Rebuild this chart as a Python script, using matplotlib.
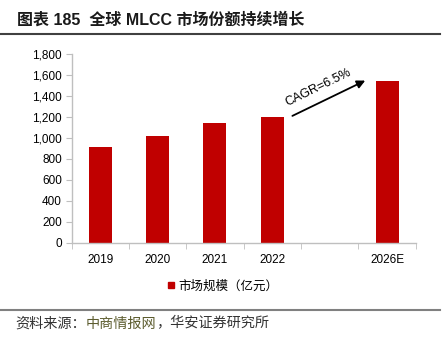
import numpy as np
import matplotlib.pyplot as plt
from matplotlib.lines import Line2D

plt.rcParams['font.family'] = ['Liberation Sans', 'Noto Sans CJK SC']

# 全球MLCC市场规模（亿元）
anos = ['2019', '2020', '2021', '2022', '', '2026E']
valores = [912, 1016, 1146, 1200, 0, 1543]
cagr = 'CAGR=6.5%'

fig = plt.figure(figsize=(4.47, 3.37), dpi=100)
ax = fig.add_axes([0.160, 0.279, 0.770, 0.561])

x = np.arange(len(anos))
mask = np.array([a != '' for a in anos])
ax.bar(x[mask], np.array(valores)[mask], width=0.4, color='#C00000', zorder=2)

ax.set_xlim(-0.5, len(anos) - 0.5)
ax.set_ylim(0, 1800)
ax.set_yticks(np.arange(0, 1801, 200))
ax.set_yticklabels([f'{v:,}' for v in range(0, 1801, 200)], fontsize=8.5)
ax.set_xticks(x)
ax.set_xticklabels(anos, fontsize=8.5)
ax.set_xticks(np.arange(-0.5, len(anos)), minor=True)
ax.tick_params(axis='x', which='major', length=0, pad=8)
ax.tick_params(axis='x', which='minor', length=4, color='#BFBFBF', direction='out')
ax.tick_params(axis='y', length=4, color='#BFBFBF', direction='out', pad=3)

for s in ['top', 'right']:
    ax.spines[s].set_visible(False)
for s in ['left', 'bottom']:
    ax.spines[s].set_color('#BFBFBF')
    ax.spines[s].set_linewidth(1)

# seta do CAGR entre 2022 e 2026E
ax.annotate('', xy=(4.62, 1546), xytext=(3.35, 1210),
            arrowprops=dict(arrowstyle='-|>', color='black', lw=1.3,
                            mutation_scale=12, shrinkA=0, shrinkB=0))
ax.text(3.80, 1475, cagr, rotation=26, ha='center', va='center', fontsize=9)

handle = Line2D([], [], marker='s', color='#C00000', linestyle='none', markersize=5)
fig.legend([handle], ['市场规模（亿元）'], loc='center', bbox_to_anchor=(0.497, 0.150),
           frameon=False, fontsize=9, handletextpad=0.2, handlelength=0.8)

# título e fonte
fig.text(0.038, 0.94, '图表 185  全球 MLCC 市场份额持续增长', fontsize=11.5, fontweight='bold',
         va='center', ha='left', color='#1a1a1a')
fig.add_artist(Line2D([0, 0.985], [0.899, 0.899], color='#404040', lw=1.5))
fig.add_artist(Line2D([0, 0.985], [0.080, 0.080], color='#808080', lw=1.5))

y_src = 0.040
t1 = fig.text(0.034, y_src, '资料来源：', fontsize=10.2, va='center', ha='left', color='#333333')
fig.canvas.draw()
bb = t1.get_window_extent()
t2 = fig.text(bb.x1 / fig.bbox.width, y_src, '中商情报网', fontsize=10.2, va='center',
              ha='left', color='#5C5C2E')
fig.canvas.draw()
bb = t2.get_window_extent()
fig.text(bb.x1 / fig.bbox.width, y_src, '，华安证券研究所', fontsize=10.2, va='center',
         ha='left', color='#333333')

fig.savefig('out.png', dpi=100)
